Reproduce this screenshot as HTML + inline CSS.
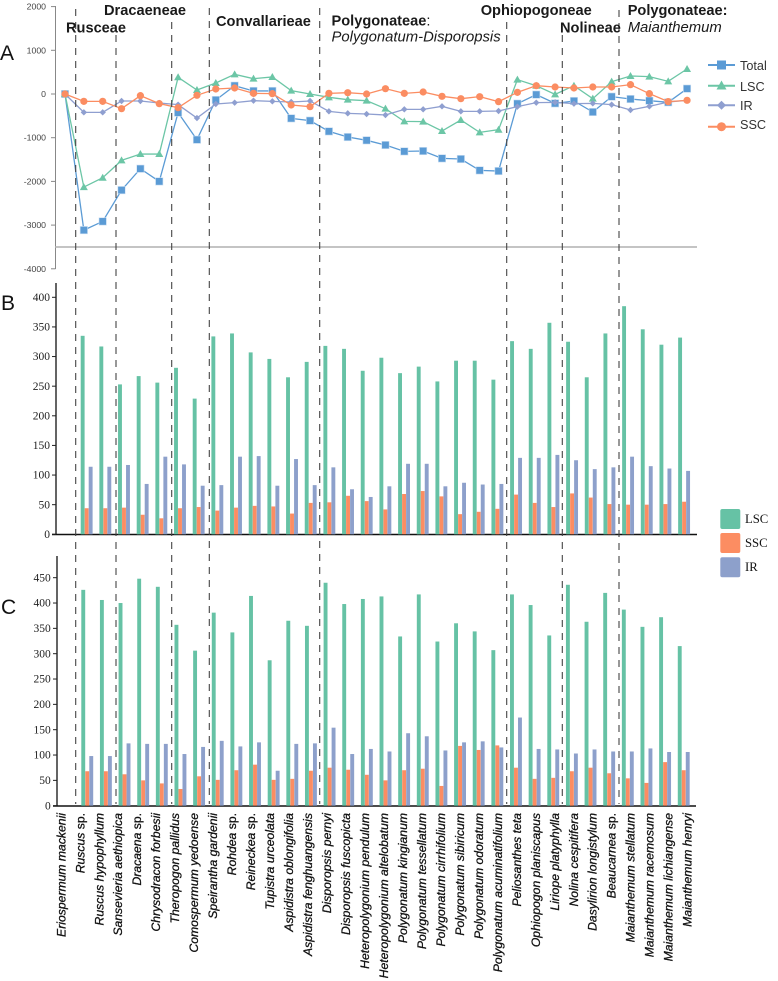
<!DOCTYPE html>
<html lang="en">
<head>
<meta charset="utf-8">
<title>Chloroplast genome region size comparison</title>
<style>
html,body{margin:0;padding:0;background:#fff;}
#wrap{position:relative;width:778px;height:981px;overflow:hidden;background:#fff;}
svg{display:block;position:absolute;left:0;top:0;}
.group{font-family:"Liberation Sans",sans-serif;font-size:14.6px;font-weight:bold;fill:#1a1a1a;}
.groupi{font-family:"Liberation Sans",sans-serif;font-size:14.85px;font-style:italic;fill:#1a1a1a;}
.panel{font-family:"Liberation Sans",sans-serif;font-size:21px;fill:#111;}
.leg{font-family:"Liberation Sans",sans-serif;font-size:12.7px;fill:#333;}
.legs{font-family:"Liberation Serif",serif;font-size:12.7px;fill:#111;}
.tickA{font-family:"Liberation Sans",sans-serif;font-size:8.7px;fill:#444;text-anchor:end;}
.tickB{font-family:"Liberation Serif",serif;font-size:11.5px;fill:#222;text-anchor:end;}
.cat{font-family:"Liberation Sans",sans-serif;font-size:12.2px;font-style:italic;fill:#111;text-anchor:end;stroke:#111;stroke-width:.3px;}
.div{stroke:#444;stroke-width:1.1;stroke-dasharray:7 6;fill:none;}
</style>
</head>
<body>
<div id="wrap">
<svg id="chart" width="778" height="981" viewBox="0 0 778 981" xmlns="http://www.w3.org/2000/svg">
  <g id="panelA">
    <line x1="55.5" y1="6" x2="55.5" y2="269" stroke="#888" stroke-width="1"/>
    <line x1="55" y1="247" x2="697" y2="247" stroke="#b0b0b0" stroke-width="1.6"/>
  </g>
  <g id="panelB">
    <line x1="56" y1="283" x2="56" y2="535" stroke="#222" stroke-width="1.4"/>
    <line x1="52" y1="534.5" x2="697" y2="534.5" stroke="#111" stroke-width="1.4"/>
  </g>
  <g id="panelC">
    <line x1="57" y1="556" x2="57" y2="806" stroke="#222" stroke-width="1.4"/>
    <line x1="53" y1="806" x2="696" y2="806" stroke="#111" stroke-width="1.4"/>
  </g>
  <g>
    <line class="div" x1="75.7" y1="9" x2="75.7" y2="804"/>
    <line class="div" x1="116" y1="35" x2="116" y2="804"/>
    <line class="div" x1="171.7" y1="22" x2="171.7" y2="804"/>
    <line class="div" x1="209.3" y1="8" x2="209.3" y2="804"/>
    <line class="div" x1="319.7" y1="8" x2="319.7" y2="804"/>
    <line class="div" x1="506.7" y1="22" x2="506.7" y2="804"/>
    <line class="div" x1="562.3" y1="35" x2="562.3" y2="804"/>
    <line class="div" x1="619" y1="10" x2="619" y2="804"/>
  </g>
  <g id="categories"></g>

  <text class="panel" x="0" y="60">A</text>
  <text class="panel" x="1" y="310">B</text>
  <text class="panel" x="1" y="614">C</text>

  <text class="group" x="66" y="32.7">Rusceae</text>
  <text class="group" x="104" y="15">Dracaeneae</text>
  <text class="group" x="216" y="26">Convallarieae</text>
  <text class="group" x="331.5" y="25.5">Polygonateae<tspan font-weight="normal">:</tspan></text>
  <text class="groupi" x="331.5" y="41.7">Polygonatum-Disporopsis</text>
  <text class="group" x="480.7" y="15">Ophiopogoneae</text>
  <text class="group" x="560" y="32.3">Nolineae</text>
  <text class="group" x="627.7" y="15">Polygonateae:</text>
  <text class="groupi" x="627.7" y="32">Maianthemum</text>

  <g>
    <g>
      <line x1="708" y1="65" x2="735" y2="65" stroke="#5b9bd5" stroke-width="2"/>
      <rect x="717" y="60.5" width="9" height="9" fill="#5b9bd5"/>
      <text class="leg" x="740" y="70">Total</text>
    </g>
    <g>
      <line x1="708" y1="85.7" x2="735" y2="85.7" stroke="#6cc6a6" stroke-width="2"/>
      <polygon points="721.5,80.5 726.5,89.5 716.5,89.5" fill="#6cc6a6"/>
      <text class="leg" x="740" y="91">LSC</text>
    </g>
    <g>
      <line x1="708" y1="105.3" x2="735" y2="105.3" stroke="#8f9fd0" stroke-width="2"/>
      <polygon points="721.5,100.8 726,105.3 721.5,109.8 717,105.3" fill="#8f9fd0"/>
      <text class="leg" x="740" y="110">IR</text>
    </g>
    <g>
      <line x1="708" y1="126.7" x2="735" y2="126.7" stroke="#fb8d62" stroke-width="2"/>
      <circle cx="721.5" cy="126.7" r="4.5" fill="#fb8d62"/>
      <text class="leg" x="740" y="129">SSC</text>
    </g>
  </g>

  <g>
    <g>
      <rect x="720.3" y="509" width="20" height="20" rx="2" fill="#66c2a5"/>
      <text class="legs" x="745" y="523">LSC</text>
    </g>
    <g>
      <rect x="720.3" y="533" width="20" height="20" rx="2" fill="#fc8d62"/>
      <text class="legs" x="745" y="547">SSC</text>
    </g>
    <g>
      <rect x="720.3" y="557.3" width="20" height="20" rx="2" fill="#8da0cb"/>
      <text class="legs" x="745" y="571">IR</text>
    </g>
  </g>
</svg>
</div>
<script>
const categories = ["Eriospermum mackenii","Ruscus sp.","Ruscus hypophyllum","Sansevieria aethiopica","Dracaena sp.","Chrysodracon forbesii","Theropogon pallidus","Comospermum yedoense","Speirantha gardenii","Rohdea sp.","Reineckea sp.","Tupistra urceolata","Aspidistra oblongifolia","Aspidistra fenghuangensis","Disporopsis pernyi","Disporopsis fuscopicta","Heteropolygonium pendulum","Heteropolygonium altelobatum","Polygonatum kingianum","Polygonatum tessellatum","Polygonatum cirrhifolium","Polygonatum sibiricum","Polygonatum odoratum","Polygonatum acuminatifolium","Peliosanthes teta","Ophiopogon planiscapus","Liriope platyphylla","Nolina cespitifera","Dasylirion longistylum","Beaucarnea sp.","Maianthemum stellatum","Maianthemum racemosum","Maianthemum lichiangense","Maianthemum henryi"];

const ticksA = [2000,1000,0,-1000,-2000,-3000,-4000];
const ticksB = [0,50,100,150,200,250,300,350,400];
const ticksC = [0,50,100,150,200,250,300,350,400,450];

const totalDiff = [0,-3115,-2916,-2200,-1710,-2000,-427,-1046,-137,190,70,70,-557,-610,-855,-985,-1060,-1168,-1313,-1305,-1473,-1488,-1748,-1763,-221,-15,-214,-160,-412,-61,-115,-153,-190,122];
const lscDiff = [0,-2130,-1916,-1519,-1374,-1374,382,92,252,450,351,390,76,0,-76,-130,-153,-336,-626,-633,-847,-595,-878,-817,328,190,-8,190,-107,282,412,397,290,572];
const irDiff = [0,-420,-420,-160,-160,-206,-244,-550,-229,-198,-153,-168,-183,-160,-397,-443,-458,-481,-351,-351,-282,-397,-397,-389,-290,-198,-191,-221,-214,-244,-366,-282,-183,-145];
const sscDiff = [0,-168,-168,-336,-38,-221,-313,-30,115,137,15,8,-252,-290,15,30,0,122,15,46,-53,-107,-61,-175,38,190,160,137,160,160,214,8,-175,-145];

const lscB = [0,335,317,253,267,256,281,229,334,339,307,296,265,291,318,313,276,298,272,283,258,293,293,261,326,313,357,325,265,339,385,346,320,332];
const sscB = [0,44,44,45,33,27,44,46,40,45,48,47,35,53,54,65,56,42,68,73,64,34,38,43,67,53,46,69,62,51,50,50,51,55];
const irB = [0,114,114,117,85,131,118,82,83,131,132,82,127,83,113,76,63,81,119,119,81,87,84,85,129,129,134,125,110,113,131,115,111,107];

const lscC = [0,426,406,400,448,432,357,306,381,342,414,287,365,355,440,398,408,413,334,417,324,360,344,307,417,396,336,436,363,420,387,353,372,315];
const sscC = [0,68,68,62,50,44,33,58,51,70,81,51,53,69,75,71,61,50,70,73,39,118,110,119,75,53,55,68,75,64,54,45,86,70];
const irC = [0,98,98,123,122,122,102,116,128,117,125,69,122,123,154,102,112,107,143,137,109,125,127,115,174,112,111,103,111,107,107,113,106,106];

const NS = 'http://www.w3.org/2000/svg';
const COLORS = {total:'#5b9bd5', lsc:'#6cc6a6', ir:'#8f9fd0', ssc:'#fb8d62', blsc:'#66c2a5', bssc:'#fc8d62', bir:'#8da0cb'};

function mk(tag, attrs, parent){
  const el = document.createElementNS(NS, tag);
  for (const k in attrs) el.setAttribute(k, attrs[k]);
  parent.appendChild(el);
  return el;
}

const xLine = i => 65 + 18.85 * i;
const yLine = v => 94 - v * 0.0437;
const xBarB = i => 86.7 + 18.67 * (i - 1);
const yBarB = v => 534.3 - v * 0.5925;
const xBarC = i => 87.3 + 18.64 * (i - 1);
const yBarC = v => 805.7 - v * 0.5067;
const xCat = i => 65.3 + 18.98 * i;

const panelA = document.getElementById('panelA');
const panelB = document.getElementById('panelB');
const panelC = document.getElementById('panelC');
const catGroup = document.getElementById('categories');

function drawTicks(parent, ticks, yFn, cls, labelX, x1, x2, color, prefix){
  ticks.forEach(function(t){
    const y = yFn(t);
    const tick = mk('line', {x1:x1, x2:x2, y1:y, y2:y, stroke:color, 'stroke-width':1}, parent);
    
    
    const lab = mk('text', {class:cls, x:labelX, y:y + (cls === 'tickA' ? 3 : 3.6)}, parent);
    
    
    lab.textContent = String(t);
  });
}
drawTicks(panelA, ticksA, yLine, 'tickA', 46, 51, 55.5, '#888', 'panel-a-y');
drawTicks(panelB, ticksB, yBarB, 'tickB', 50, 52, 56, '#222', 'panel-b-y');
drawTicks(panelC, ticksC, yBarC, 'tickB', 50.7, 53, 57, '#222', 'panel-c-y');

function marker(kind, cx, cy, color, parent){
  if (kind === 'square') return mk('rect', {x:cx - 3.7, y:cy - 3.7, width:7.4, height:7.4, fill:color, stroke:'#cfe1f3', 'stroke-width':0.6}, parent);
  if (kind === 'triangle') return mk('polygon', {points:`${cx},${cy - 4} ${cx + 4},${cy + 3} ${cx - 4},${cy + 3}`, fill:color}, parent);
  if (kind === 'diamond') return mk('polygon', {points:`${cx},${cy - 3.2} ${cx + 3.2},${cy} ${cx},${cy + 3.2} ${cx - 3.2},${cy}`, fill:color}, parent);
  return mk('circle', {cx:cx, cy:cy, r:3.6, fill:color}, parent);
}

function drawSeries(values, color, kind, name){
  const g = mk('g', {}, panelA);
  
  
  const pts = values.map(function(v, i){ return xLine(i) + ',' + yLine(v); }).join(' ');
  const line = mk('polyline', {points:pts, fill:'none', stroke:color, 'stroke-width':1.3}, g);
  
  
  values.forEach(function(v, i){
    const m = marker(kind, xLine(i), yLine(v), color, g);
    
    
  });
}
drawSeries(totalDiff, COLORS.total, 'square', 'total');
drawSeries(lscDiff, COLORS.lsc, 'triangle', 'lsc');
drawSeries(irDiff, COLORS.ir, 'diamond', 'ir');
drawSeries(sscDiff, COLORS.ssc, 'circle', 'ssc');

function drawBars(parent, values, xFn, yFn, offset, color, name){
  values.forEach(function(v, i){
    if (v <= 0) return;
    const top = yFn(v);
    const bar = mk('rect', {x:xFn(i) + offset - 2, y:top, width:3.9, height:yFn(0) - top, fill:color}, parent);
    
    
  });
}
drawBars(panelB, lscB, xBarB, yBarB, -4, COLORS.blsc, 'bar-b-lsc');
drawBars(panelB, sscB, xBarB, yBarB, 0, COLORS.bssc, 'bar-b-ssc');
drawBars(panelB, irB, xBarB, yBarB, 4, COLORS.bir, 'bar-b-ir');
drawBars(panelC, lscC, xBarC, yBarC, -4, COLORS.blsc, 'bar-c-lsc');
drawBars(panelC, sscC, xBarC, yBarC, 0, COLORS.bssc, 'bar-c-ssc');
drawBars(panelC, irC, xBarC, yBarC, 4, COLORS.bir, 'bar-c-ir');

categories.forEach(function(name, i){
  const x = xCat(i);
  const t = mk('text', {class:'cat', x:x, y:813, transform:'rotate(-90 ' + x + ' 813)'}, catGroup);
  
  
  if (name.endsWith(' sp.')) {
    t.textContent = name.slice(0, -3);
    const sp = mk('tspan', {'font-style':'normal'}, t);
    sp.textContent = 'sp.';
  } else {
    t.textContent = name;
  }
});
</script>
</body>
</html>
